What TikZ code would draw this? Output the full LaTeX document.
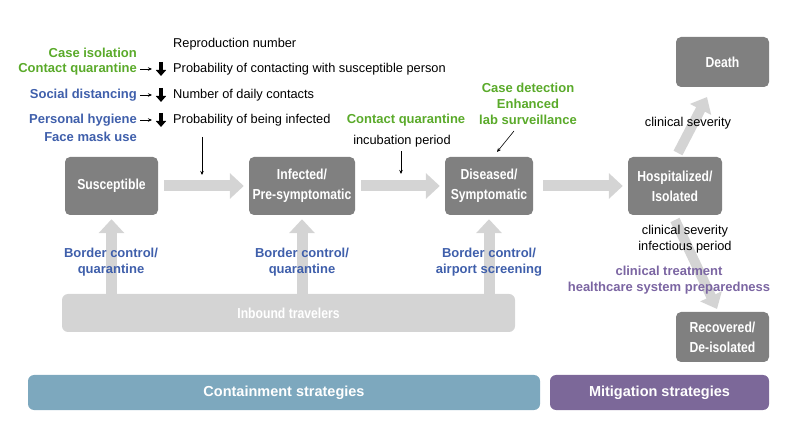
\documentclass[tikz,border=0pt]{standalone}
\usepackage{fontspec}
\setmainfont{Liberation Sans}
\newfontfamily\condfont[FakeStretch=0.84]{Liberation Sans}
\usetikzlibrary{arrows.meta,calc}
\definecolor{boxgray}{HTML}{808080}
\definecolor{arrgray}{HTML}{D4D4D4}
\definecolor{cgreen}{HTML}{5AAA2A}
\definecolor{cblue}{HTML}{3F5FAB}
\definecolor{cpurple}{HTML}{7B65A2}
\definecolor{contain}{HTML}{7DA8BE}
\definecolor{mitig}{HTML}{7C6899}
\begin{document}
\begin{tikzpicture}[x=1pt,y=-1pt,
  box/.style={fill=boxgray, rounded corners=5pt, text=white, align=center, inner sep=0pt,
    font=\condfont\bfseries\fontsize{14.5}{20}\selectfont},
  bigarrow/.style={draw=arrgray, line width=11pt, -{Triangle[width=25pt,length=14pt]}},
  thinarr/.style={line width=0.6pt, -{Stealth[length=4pt,width=3.5pt]}},
  downarr/.style={line width=3.4pt, -{Triangle[width=10pt,length=6pt]}},
  txt/.style={font=\fontsize{12.8}{16}\selectfont, inner sep=0pt},
  grn/.style={text=cgreen, font=\bfseries\fontsize{13}{16}\selectfont, inner sep=0pt, align=center},
  blu/.style={text=cblue, font=\bfseries\fontsize{13}{16}\selectfont, inner sep=0pt, align=center},
  pur/.style={text=cpurple, font=\bfseries\fontsize{13}{16}\selectfont, inner sep=0pt, align=center},
  bar/.style={rounded corners=6pt, text=white, font=\bfseries\fontsize{14.5}{16}\selectfont}
]
\useasboundingbox (0,0) rectangle (787,443);

% boxes
\node[box, minimum width=93pt, minimum height=58pt] (sus) at (111.5,186) {Susceptible};
\node[box, minimum width=106pt, minimum height=58pt] (inf) at (302,186) {Infected/\\Pre-symptomatic};
\node[box, minimum width=88pt, minimum height=58pt] (dis) at (489,186) {Diseased/\\Symptomatic};
\node[box, minimum width=94pt, minimum height=58pt] (hos) at (675,186) {Hospitalized/\\Isolated};
\node[box, minimum width=93pt, minimum height=50pt] (dea) at (722.5,62) {Death};
\node[box, minimum width=93pt, minimum height=50pt] (rec) at (722.5,337) {Recovered/\\De-isolated};

% inbound bar
\node[bar, fill=arrgray, minimum width=453pt, minimum height=38pt, font=\condfont\bfseries\fontsize{14.5}{16}\selectfont] (inb) at (288.5,313) {Inbound travelers};

% bottom bars
\node[bar, fill=contain, minimum width=512pt, minimum height=35pt] (con) at (284,392.5) {Containment strategies};
\node[bar, fill=mitig, minimum width=219pt, minimum height=35pt] (mit) at (659.5,392.5) {Mitigation strategies};

% big gray arrows
\draw[bigarrow, shorten <=6pt, shorten >=5pt] (sus.east) -- (inf.west);
\draw[bigarrow, shorten <=6pt, shorten >=5pt] (inf.east) -- (dis.west);
\draw[bigarrow, shorten <=10pt, shorten >=5pt] (dis.east) -- (hos.west);
\draw[bigarrow, shorten >=4pt] (sus.south |- inb.north) -- (sus.south);
\draw[bigarrow, shorten >=4pt] (inf.south |- inb.north) -- (inf.south);
\draw[bigarrow, shorten >=4pt] (dis.south |- inb.north) -- (dis.south);
\coordinate (hd1) at (678,153);
\coordinate (hd2) at (707,97);
\draw[bigarrow, line width=10pt, -{Triangle[width=23pt,length=14pt]}] (hd1) -- (hd2);
\coordinate (hr1) at (675,220);
\coordinate (hr2) at (717,309);
\draw[bigarrow, line width=10pt, -{Triangle[width=23pt,length=14pt]}] (hr1) -- (hr2);

% left labels
\node[txt, anchor=west] (rn) at (173,44) {Reproduction number};
\node[grn, anchor=east] (ci) at (137,53) {Case isolation};
\node[grn, anchor=east] (cq) at (137,69) {Contact quarantine};
\node[blu, anchor=east] (sd) at (137,95) {Social distancing};
\node[blu, anchor=east] (ph) at (137,120) {Personal hygiene};
\node[blu, anchor=east] (fm) at (137,137) {Face mask use};
\node[txt, anchor=west] (p1) at (173,69) {Probability of contacting with susceptible person};
\node[txt, anchor=west] (p2) at (173,95) {Number of daily contacts};
\node[txt, anchor=west] (p3) at (173,120) {Probability of being infected};

\foreach \n/\yy in {cq/69, sd/95, ph/120}{
  \draw[thinarr] ($(\n.east)+(3,0)$) -- ++(12,0);
  \draw[downarr] (161,\yy-7) -- (161,\yy+7);
}

% thin arrow into the first big arrow
\coordinate (a1) at (202,137);
\coordinate (a1e) at (202,175);
\draw[thinarr] (a1) -- (a1e);

% middle labels
\node[grn] (cq2) at (406,120) {Contact quarantine};
\node[txt] (ip) at (402,141) {incubation period};
\coordinate (a2e) at (401,174);
\draw[thinarr] ($(ip.south)+(-1,4)$) -- (a2e);

\node[grn, font=\bfseries\fontsize{13}{16}\selectfont] (cd) at (528,104) {Case detection\\Enhanced\\lab surveillance};
\coordinate (a3s) at (514,131);
\coordinate (a3e) at (497,152);
\draw[thinarr] (a3s) -- (a3e);

% right labels
\node[txt] (cs1) at (688,123) {clinical severity};
\node[txt, align=center] (cs2) at (685,239) {clinical severity\\infectious period};
\node[pur] (ct) at (669,280) {clinical treatment\\healthcare system preparedness};

% border control labels
\node[blu] (b1) at (111,262) {Border control/\\quarantine};
\node[blu] (b2) at (302,262) {Border control/\\quarantine};
\node[blu] (b3) at (489,262) {Border control/\\airport screening};
\end{tikzpicture}
\end{document}
